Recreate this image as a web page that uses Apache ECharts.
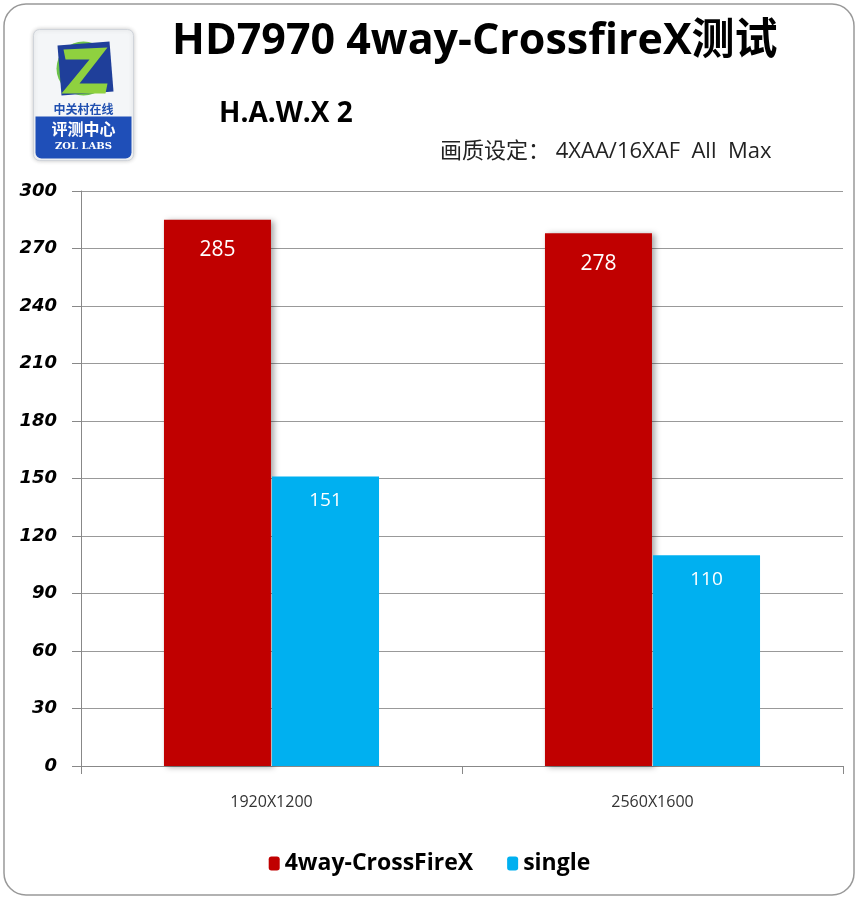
<!DOCTYPE html>
<html><head><meta charset="utf-8">
<script src="https://cdn.jsdelivr.net/npm/echarts@6/dist/echarts.min.js"></script>
<style>html,body{margin:0;padding:0;background:#fff}#c{width:859px;height:900px}</style>
</head><body><div id="c"></div>
<script>
const categories = ['1920X1200', '2560X1600'];
const crossfire = [285, 278];
const single = [151, 110];
const seriesNames = ['4way-CrossFireX', 'single'];
const yTicks = { min: 0, max: 300, interval: 30 };
const titleText = 'HD7970 4way-CrossfireX测试';
const subTitle = 'H.A.W.X 2';
const settingText = '画质设定： 4XAA/16XAF  All  Max';

const chart = echarts.init(document.getElementById('c'));
const font = '"Open Sans", "Noto Sans CJK SC", sans-serif';
chart.setOption({
  backgroundColor: '#fff',
  textStyle: { fontFamily: font },
  animation: false,
  grid: { left: 81, right: 16, top: 191, bottom: 134 },
  xAxis: {
    type: 'category', data: categories,
    axisLine: { lineStyle: { color: '#888', width: 1 } },
    axisTick: { show: true, length: 8, alignWithLabel: false, lineStyle: { color: '#888' } },
    axisLabel: { color: '#333', fontSize: 16, margin: 28, fontFamily: '"Liberation Sans Narrow", "Open Sans", sans-serif' }
  },
  yAxis: {
    type: 'value', min: yTicks.min, max: yTicks.max, interval: yTicks.interval,
    axisLine: { show: true, lineStyle: { color: '#888' } },
    axisTick: { show: true, length: 9, lineStyle: { color: '#888' } },
    splitLine: { lineStyle: { color: '#999', width: 1 } },
    axisLabel: { color: '#000', fontSize: 18, fontWeight: 'bold', fontStyle: 'italic', margin: 24, fontFamily: '"DejaVu Sans", sans-serif' }
  },
  legend: {
    bottom: 20, left: 'center', itemWidth: 11, itemHeight: 14, itemGap: 34,
    textStyle: { fontSize: 23, fontWeight: 'bold', color: '#000', fontFamily: font },
    data: seriesNames
  },
  series: [
    { name: seriesNames[0], type: 'bar', data: crossfire, barWidth: 107, barGap: '1%',
      itemStyle: { color: '#C00000', shadowColor: 'rgba(0,0,0,0.35)', shadowBlur: 6, shadowOffsetX: 3, shadowOffsetY: 1 },
      label: { show: true, position: 'insideTop', distance: 20, color: '#fff', fontSize: 21, fontFamily: font } },
    { name: seriesNames[1], type: 'bar', data: single, barWidth: 107,
      itemStyle: { color: '#00B0F0' },
      label: { show: true, position: 'insideTop', distance: 15, color: '#fff', fontSize: 19, fontFamily: font } }
  ],
  graphic: [
    { type: 'rect', shape: { x: 4, y: 4, width: 850, height: 891, r: 22 }, style: { fill: 'none', stroke: '#999', lineWidth: 1.5 }, z: -1 },
    { type: 'text', left: 172, top: 20, style: { text: titleText, font: 'bold 43px ' + font, fill: '#000' } },
    { type: 'text', left: 219, top: 100, style: { text: subTitle, font: 'bold 28px ' + font, fill: '#000' } },
    { type: 'text', left: 440, top: 141, style: { text: settingText, font: '22px ' + font, fill: '#222' } },
    { type: 'group', left: 33, top: 29, children: [
      { type: 'rect', shape: { x: 0, y: 0, width: 100, height: 131, r: 6 }, style: { fill: '#f4f6f8', stroke: '#d0d4da', lineWidth: 1, shadowColor: 'rgba(0,0,0,0.2)', shadowBlur: 4 } },
      { type: 'circle', shape: { cx: 50, cy: 39, r: 27 }, style: { fill: '#6cc24a' } },
      { type: 'polygon', shape: { points: [[24, 16], [76, 12], [80, 62], [28, 66]] }, style: { fill: '#1f3f9a' } },
      { type: 'polygon', shape: { points: [[30, 20], [74, 18], [46, 54], [74, 54], [72, 64], [28, 64], [56, 30], [32, 30]] }, style: { fill: '#8fd13f' } },
      { type: 'text', style: { text: '中关村在线', x: 50, y: 74, align: 'center', font: 'bold 12px "Noto Sans CJK SC"', fill: '#1f4fb0' } },
      { type: 'rect', shape: { x: 2, y: 87, width: 96, height: 42, r: [0, 0, 6, 6] }, style: { fill: '#1f4fb8' } },
      { type: 'text', style: { text: '评测中心', x: 50, y: 91, align: 'center', font: 'bold 16px "Noto Sans CJK SC"', fill: '#fff' } },
      { type: 'text', style: { text: 'ZOL LABS', x: 50, y: 112, align: 'center', font: 'bold 10px "DejaVu Serif"', fill: '#fff' } }
    ] }
  ]
});
</script></body></html>
